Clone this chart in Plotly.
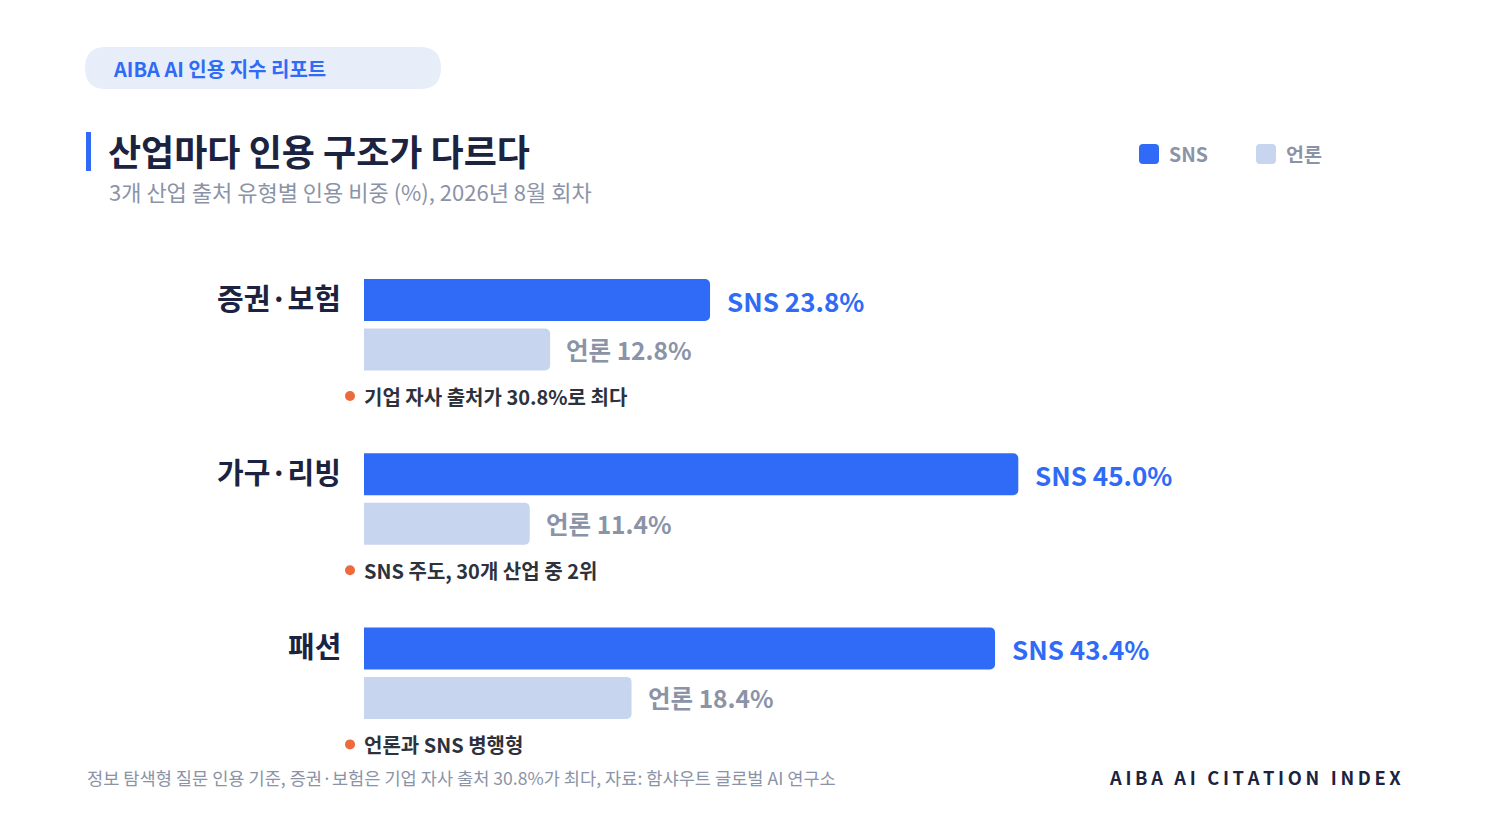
import plotly.graph_objects as go

# ---- data ----
industries = ["증권·보험", "가구·리빙", "패션"]
sns_share = [23.8, 45.0, 43.4]
media_share = [12.8, 11.4, 18.4]
notes = ["기업 자사 출처가 30.8%로 최다", "SNS 주도, 30개 산업 중 2위", "언론과 SNS 병행형"]
series_names = ["SNS", "언론"]

badge_text = "AIBA AI 인용 지수 리포트"
title_text = "산업마다 인용 구조가 다르다"
subtitle_text = "3개 산업 출처 유형별 인용 비중 (%), 2026년 8월 회차"
footer_text = "정보 탐색형 질문 인용 기준, 증권·보험은 기업 자사 출처 30.8%가 최다, 자료: 함샤우트 글로벌 AI 연구소"
brand_text = "AIBA AI CITATION INDEX"

# ---- style ----
W, H = 1487, 837
OFF = 8  # page body margin
FONT = "Noto Sans CJK KR"
BLUE = "#2f6bf6"
LIGHT = "#c8d5ef"
DARK = "#1b2340"
GRAY = "#8b93a7"
NOTE = "#2e323d"
ORANGE = "#ee6a3c"
PILL = "#e7eefa"

PX_PER_PCT = 14.54
X0 = 364 - OFF
x_range = [-X0 / PX_PER_PCT, (W - X0) / PX_PER_PCT]

GROUP_TOP = 300 - OFF
GROUP_STEP = 174.2
MEDIA_OFF = 49.5
NOTE_OFF = 96
BAR_H = 42

sns_y = [GROUP_TOP + i * GROUP_STEP for i in range(len(industries))]
media_y = [y + MEDIA_OFF for y in sns_y]
note_y = [y + NOTE_OFF for y in sns_y]

fig = go.Figure()
fig.add_trace(go.Bar(orientation="h", x=sns_share, y=sns_y, width=BAR_H,
                     marker=dict(color=BLUE, line=dict(width=0)), name=series_names[0],
                     hoverinfo="skip"))
fig.add_trace(go.Bar(orientation="h", x=media_share, y=media_y, width=BAR_H,
                     marker=dict(color=LIGHT, line=dict(width=0)), name=series_names[1],
                     hoverinfo="skip"))

# note dots
fig.add_trace(go.Scatter(x=[-14 / PX_PER_PCT] * len(notes), y=note_y, mode="markers",
                         marker=dict(color=ORANGE, size=10, line=dict(width=0)),
                         hoverinfo="skip", showlegend=False))

ann = []
shapes = []

def px(x):
    return (x - OFF) / W

def py(y):
    return 1 - (y - OFF) / H

for i, name in enumerate(industries):
    ann.append(dict(text=name, x=px(343), xref="paper", y=sns_y[i] - 3, yref="y",
                    xanchor="right", yanchor="middle", showarrow=False,
                    font=dict(family=FONT, size=29, color=DARK, weight=700)))
    ann.append(dict(text=f"{series_names[0]} {sns_share[i]:.1f}%", x=sns_share[i], xref="x",
                    y=sns_y[i], yref="y", xanchor="left", yanchor="middle", xshift=15,
                    showarrow=False, font=dict(family=FONT, size=26, color=BLUE, weight=700)))
    ann.append(dict(text=f"{series_names[1]} {media_share[i]:.1f}%", x=media_share[i], xref="x",
                    y=media_y[i], yref="y", xanchor="left", yanchor="middle", xshift=14,
                    showarrow=False, font=dict(family=FONT, size=24.5, color=GRAY, weight=700)))
    ann.append(dict(text=notes[i], x=0, xref="x", y=note_y[i], yref="y",
                    xanchor="left", yanchor="middle", showarrow=False, xshift=-2,
                    font=dict(family=FONT, size=20, color=NOTE, weight=700)))

# header pill
x1, x2, y1, y2 = 85, 441, 47, 89
r = (y2 - y1) / 2
path = (f"M {px(x1 + r)} {py(y1)} L {px(x2 - r)} {py(y1)} "
        f"Q {px(x2)} {py(y1)} {px(x2)} {py(y1 + r)} Q {px(x2)} {py(y2)} {px(x2 - r)} {py(y2)} "
        f"L {px(x1 + r)} {py(y2)} Q {px(x1)} {py(y2)} {px(x1)} {py(y1 + r)} "
        f"Q {px(x1)} {py(y1)} {px(x1 + r)} {py(y1)} Z")
shapes.append(dict(type="path", path=path, xref="paper", yref="paper",
                   fillcolor=PILL, line=dict(width=0), layer="below"))
ann.append(dict(text=badge_text, x=px(111), xref="paper", y=py(68), yref="paper",
                xanchor="left", yanchor="middle", showarrow=False,
                font=dict(family=FONT, size=20, color=BLUE, weight=700)))

# title accent bar
shapes.append(dict(type="rect", x0=px(86), x1=px(91), y0=py(132), y1=py(171),
                   xref="paper", yref="paper", fillcolor=BLUE, line=dict(width=0)))
ann.append(dict(text=title_text, x=px(106), xref="paper", y=py(150), yref="paper",
                xanchor="left", yanchor="middle", showarrow=False,
                font=dict(family=FONT, size=36, color=DARK, weight=700)))
ann.append(dict(text=subtitle_text, x=px(107), xref="paper", y=py(191), yref="paper",
                xanchor="left", yanchor="middle", showarrow=False,
                font=dict(family=FONT, size=22, color=GRAY)))

# legend
def rounded_sq(xa, ya, s, rr):
    xb, yb = xa + s, ya + s
    return (f"M {px(xa + rr)} {py(ya)} L {px(xb - rr)} {py(ya)} Q {px(xb)} {py(ya)} {px(xb)} {py(ya + rr)} "
            f"L {px(xb)} {py(yb - rr)} Q {px(xb)} {py(yb)} {px(xb - rr)} {py(yb)} "
            f"L {px(xa + rr)} {py(yb)} Q {px(xa)} {py(yb)} {px(xa)} {py(yb - rr)} "
            f"L {px(xa)} {py(ya + rr)} Q {px(xa)} {py(ya)} {px(xa + rr)} {py(ya)} Z")

for (lx, col, nm) in [(1139, BLUE, series_names[0]), (1256, LIGHT, series_names[1])]:
    shapes.append(dict(type="path", path=rounded_sq(lx, 144, 20, 4), xref="paper", yref="paper",
                       fillcolor=col, line=dict(width=0)))
    ann.append(dict(text=nm, x=px(lx + 28), xref="paper", y=py(154), yref="paper",
                    xanchor="left", yanchor="middle", showarrow=False,
                    font=dict(family=FONT, size=19.5, color=GRAY, weight=700)))

# footer
ann.append(dict(text=footer_text, x=px(85), xref="paper", y=py(777), yref="paper",
                xanchor="left", yanchor="middle", showarrow=False,
                font=dict(family=FONT, size=17.6, color=GRAY)))
spaced = "\u2009".join(list(brand_text))
ann.append(dict(text=spaced, x=px(1403), xref="paper", y=py(777), yref="paper",
                xanchor="right", yanchor="middle", showarrow=False,
                font=dict(family=FONT, size=18.3, color=DARK, weight=700)))

fig.update_layout(
    width=W, height=H,
    margin=dict(l=0, r=0, t=0, b=0, pad=0),
    paper_bgcolor="white", plot_bgcolor="white",
    barmode="overlay", barcornerradius=5,
    showlegend=False,
    xaxis=dict(range=x_range, visible=False, fixedrange=True),
    yaxis=dict(range=[H, 0], visible=False, fixedrange=True),
    annotations=ann, shapes=shapes,
    font=dict(family=FONT),
)

fig.write_html("out.html", config={"displayModeBar": False})
